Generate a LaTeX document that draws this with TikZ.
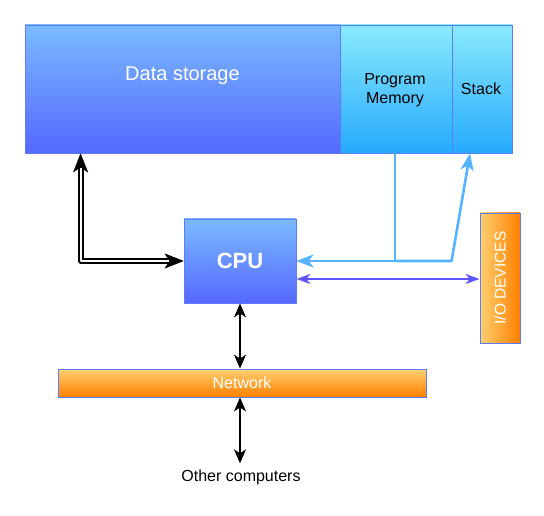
\documentclass[tikz,border=0pt]{standalone}
\usepackage{fontspec}
\setmainfont{Liberation Sans}
\usetikzlibrary{arrows.meta,calc}
\definecolor{bord}{HTML}{5C7CFA}
\definecolor{dstop}{HTML}{7ABAFF}
\definecolor{dsbot}{HTML}{5568FF}
\definecolor{pmtop}{HTML}{8AEAFD}
\definecolor{pmbot}{HTML}{26A9FD}
\definecolor{ortop}{HTML}{FFD070}
\definecolor{orbot}{HTML}{FF8000}
\definecolor{lblue}{HTML}{55B3FF}
\definecolor{purp}{HTML}{5D55FF}
\tikzset{
  box/.style={draw=bord, line width=0.8pt, rectangle, inner sep=0pt, align=center},
  bluebox/.style={box, top color=dstop, bottom color=dsbot, text=white},
  cyanbox/.style={box, top color=pmtop, bottom color=pmbot, text=black},
  orangebox/.style={box, top color=ortop, bottom color=orbot, text=white},
  txt16/.style={font=\fontsize{16}{18}\selectfont},
  blk/.style={draw=black, line width=2pt, {Stealth[length=14pt,width=12pt,inset=4pt]}-{Stealth[length=14pt,width=12pt,inset=4pt]}},
  lb/.style={draw=lblue, line width=2.6pt},
  lbtip/.style={-{Stealth[length=17pt,width=13pt,inset=4.5pt]}},
  pu/.style={draw=purp, line width=1.8pt, {Stealth[length=14pt,width=10pt,inset=4pt]}-{Stealth[length=14pt,width=10pt,inset=4pt]}},
  dstart/.style={{Stealth[length=19pt,width=15pt,inset=5pt]}-},
  dend/.style={-{Stealth[length=19pt,width=15pt,inset=5pt]}},
}
\begin{document}
\begin{tikzpicture}[x=1pt,y=-1pt]
\useasboundingbox (0,0) rectangle (544,516);
% nodes
\node[bluebox, minimum width=315pt, minimum height=128pt] (ds) at (182.5,89) {};
\node[text=white, font=\fontsize{20}{22}\selectfont] (dst) at (182.5,76) {Data storage};
\node[cyanbox, minimum width=112pt, minimum height=128pt] (pm) at (396,89) {};
\node[txt16, align=center] (pmt) at (395,90) {Program\\[1pt]Memory};
\node[cyanbox, minimum width=60pt, minimum height=128pt] (st) at (482,89) {};
\node[txt16] (stt) at (481,89) {Stack};
\node[bluebox, minimum width=112pt, minimum height=84pt, font=\bfseries\fontsize{22}{24}\selectfont] (cpu) at (240,261) {CPU};
\node[box, left color=ortop, right color=orbot, minimum width=40pt, minimum height=130pt] (io) at (500,278) {};
\node[text=white, rotate=90, font=\fontsize{15.5}{17}\selectfont] (iot) at (500,278) {I/O DEVICES};
\node[orangebox, minimum width=368pt, minimum height=28pt, font=\fontsize{16}{17}\selectfont] (net) at (242,383) {Network};
\node[txt16, inner sep=6pt] (oth) at (241,477) {Other computers};
% double connector
\coordinate (dsa) at ([xshift=56pt]ds.south west);
\coordinate (dsc) at (dsa |- cpu.west);
\draw[line width=0.1pt, dstart] (dsa) -- ++(0,20);
\draw[line width=0.1pt, dend] ([xshift=-20pt]cpu.west) -- (cpu.west);
\draw[line width=6pt, line join=round, shorten <=13pt, shorten >=13pt] (dsa) -- (dsc) -- (cpu.west);
\draw[line width=2.2pt, white, line join=round, shorten <=15pt, shorten >=15pt] (dsa) -- (dsc) -- (cpu.west);
% light blue
\coordinate (pma) at ([xshift=-1pt]pm.south);
\coordinate (jn) at (pma |- cpu.east);
\draw[lb, lbtip] (pma) -- (jn) -- (cpu.east);
\coordinate (sta) at ([xshift=-12pt]st.south);
\draw[lb, lbtip, line join=round] (jn) -- (st.south west |- cpu.east) -- (sta);
% purple
\coordinate (cpe) at ([yshift=-18pt]cpu.east);
\draw[pu] (cpe) -- (io.west |- cpe);
% black
\draw[blk] (cpu.south) -- (cpu.south |- net.north);
\draw[blk] (cpu.south |- net.south) -- (cpu.south |- oth.north);
\end{tikzpicture}
\end{document}
